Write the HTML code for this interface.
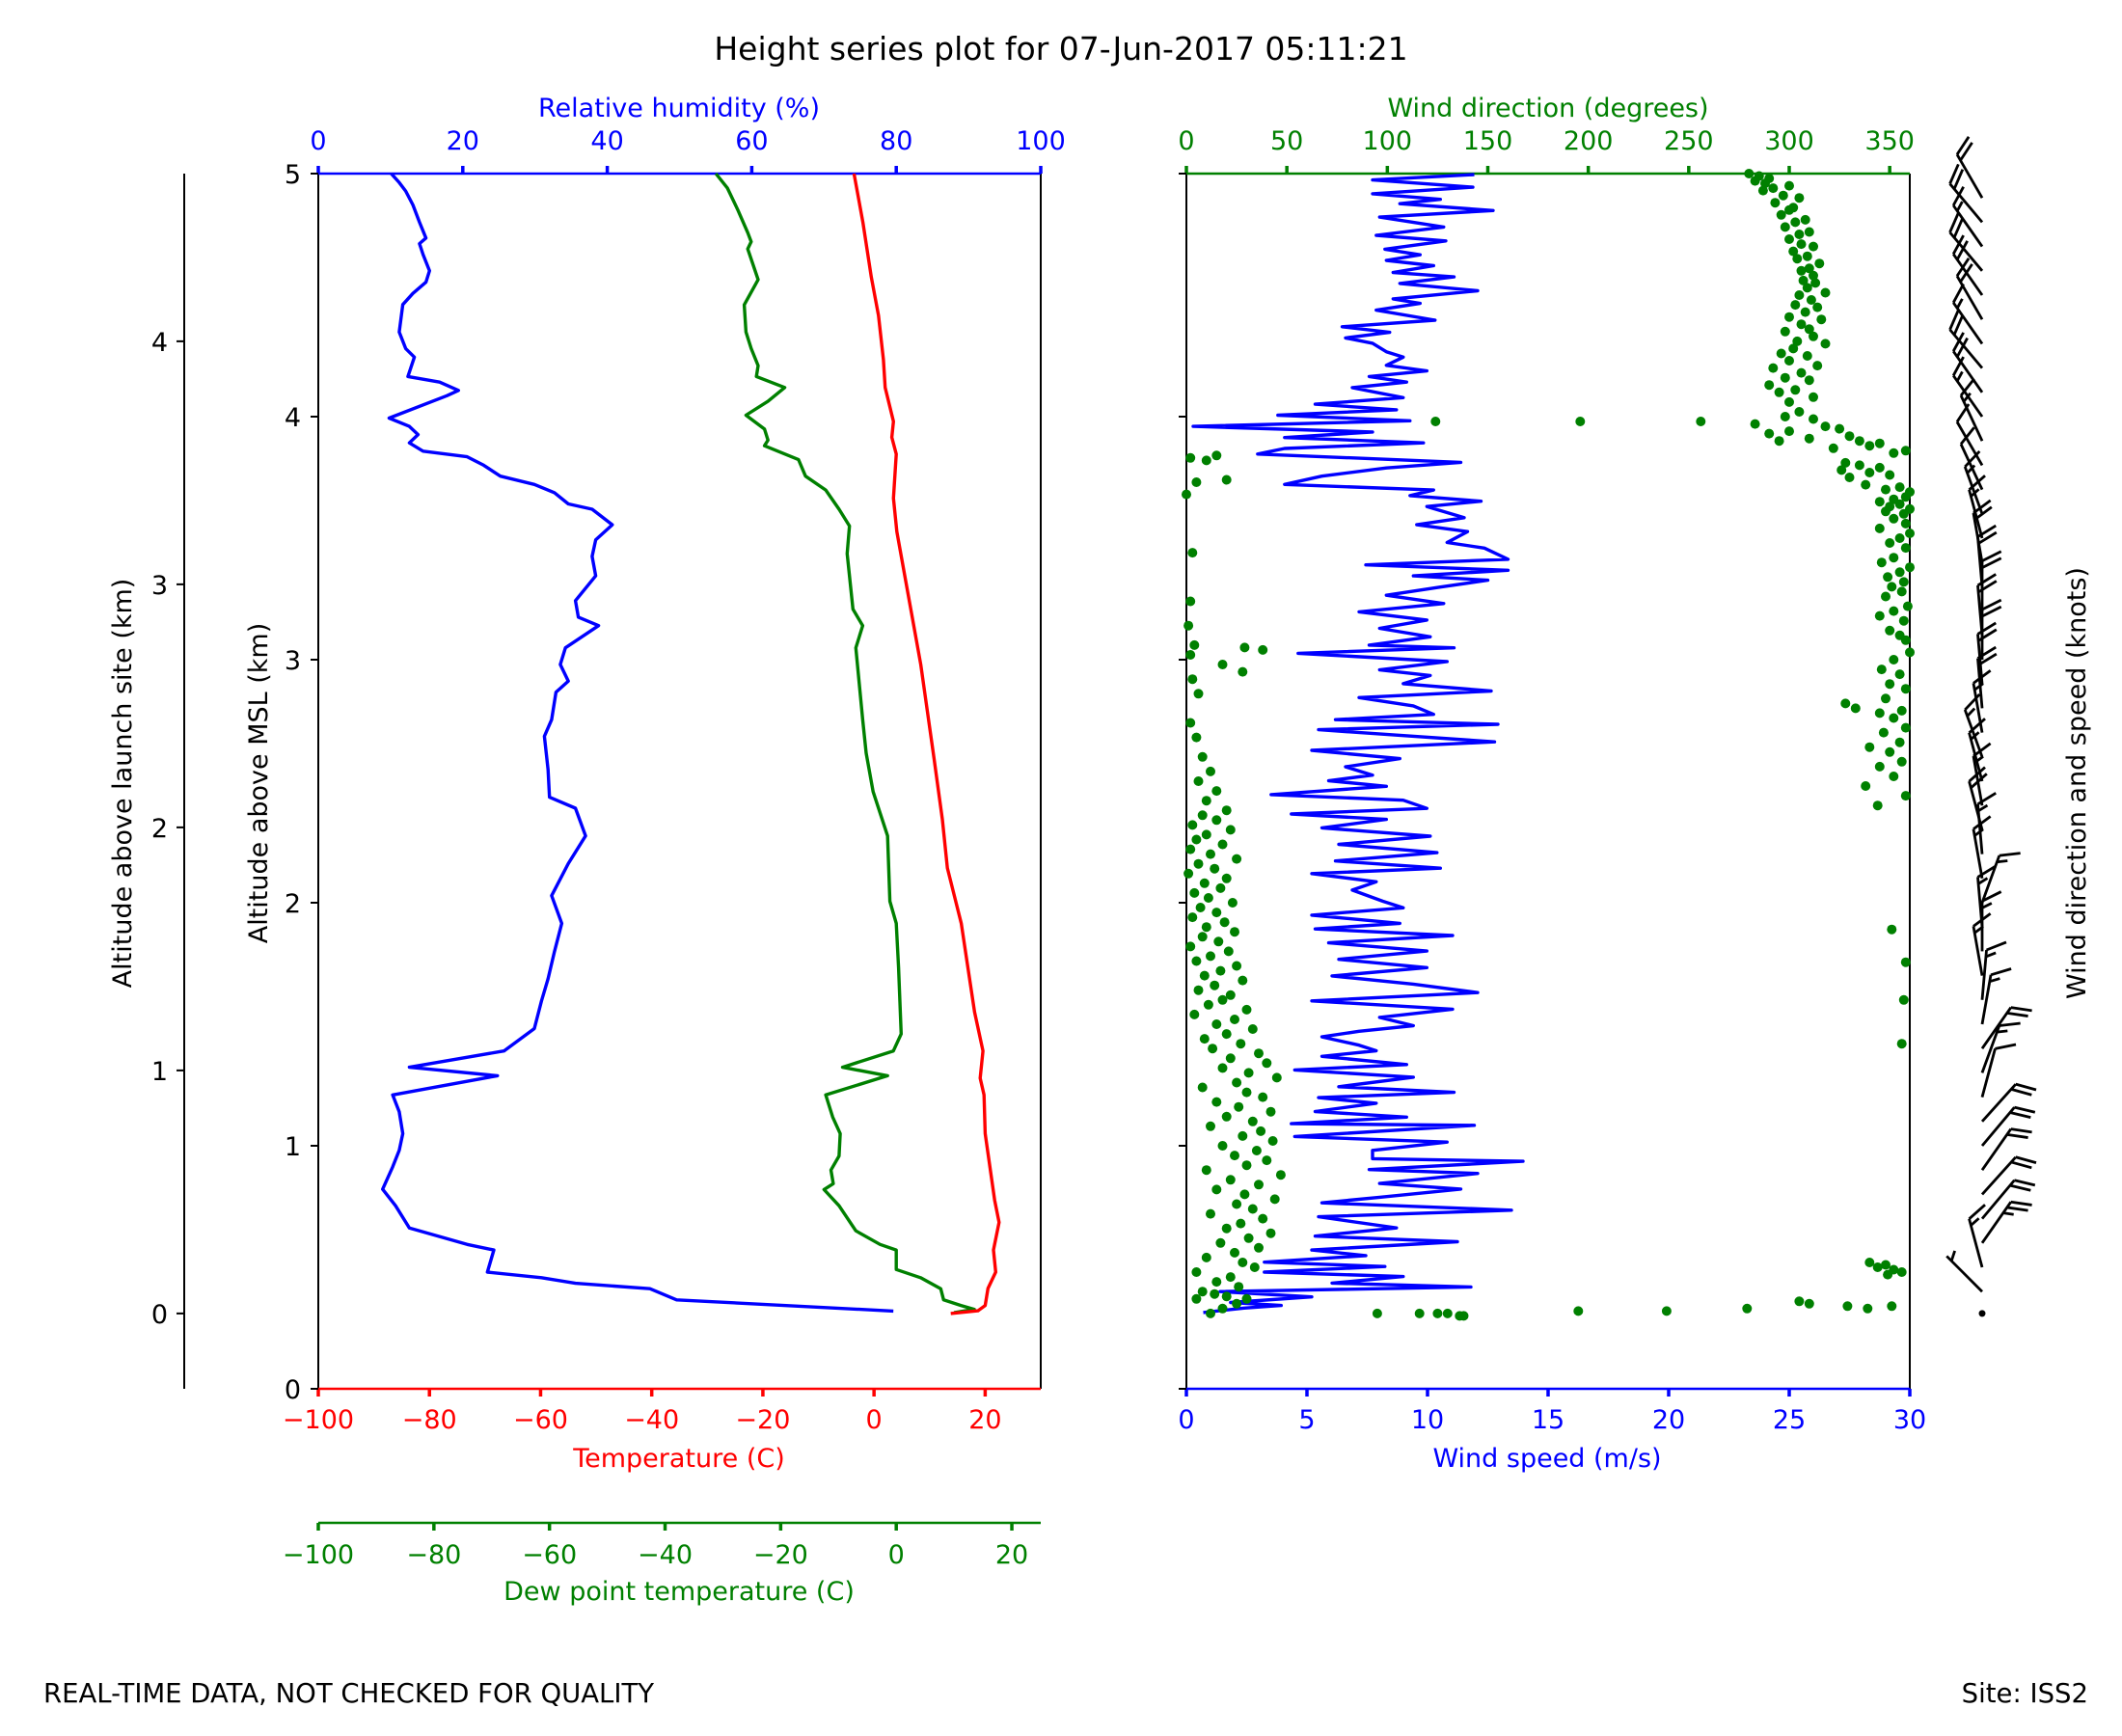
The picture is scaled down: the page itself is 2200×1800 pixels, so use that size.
<!DOCTYPE html>
<html><head><meta charset="utf-8"><title>Height series plot</title>
<style>
html,body{margin:0;padding:0;background:#fff;}
svg{display:block;font-family:"DejaVu Sans","Liberation Sans",sans-serif;}
</style></head>
<body>
<svg id="fig" width="2200" height="1800" viewBox="0 0 2200 1800" xmlns="http://www.w3.org/2000/svg">
<rect width="2200" height="1800" fill="#fff"/>
<text x="1100" y="62" font-size="33" text-anchor="middle">Height series plot for 07-Jun-2017 05:11:21</text>
<text x="45" y="1765" font-size="27.5">REAL-TIME DATA, NOT CHECKED FOR QUALITY</text>
<text x="2165" y="1765" font-size="27.5" text-anchor="end">Site: ISS2</text>
<g id="g"></g>
</svg>
<script>
// ---------- data ----------
const tempAlt=[5.0,4.80,4.575,4.416,4.234,4.12,3.98,3.915,3.846,3.664,3.527,3.30,2.98,2.593,2.343,2.143,1.915,1.55,1.39,1.278,1.209,1.05,0.776,0.685,0.571,0.48,0.413,0.343,0.321,0.31];
const tempVal=[-3.6,-2.0,-0.5,0.8,1.7,2.0,3.5,3.2,4.0,3.5,4.1,5.9,8.4,10.8,12.3,13.2,15.7,18.1,19.6,19.1,19.8,20.0,21.7,22.5,21.5,21.9,20.5,20.0,18.7,13.8];
const dewAlt=[5.0,4.94,4.85,4.757,4.72,4.69,4.564,4.46,4.348,4.28,4.21,4.165,4.12,4.063,4.006,3.949,3.903,3.88,3.823,3.755,3.698,3.619,3.55,3.436,3.208,3.14,3.049,2.753,2.616,2.457,2.275,2.006,1.915,1.733,1.46,1.39,1.323,1.288,1.209,1.118,1.05,0.958,0.9,0.844,0.82,0.753,0.65,0.594,0.571,0.491,0.457,0.412,0.366,0.343,0.327,0.313];
const dewVal=[-31.2,-29.2,-27.4,-25.7,-25.1,-25.7,-23.9,-26.3,-26.0,-25.1,-23.9,-24.2,-19.3,-22.2,-26.0,-22.8,-22.2,-22.8,-16.9,-15.7,-12.2,-9.9,-8.1,-8.5,-7.5,-5.8,-7.0,-5.8,-5.2,-4.0,-1.5,-1.1,0.0,0.4,0.85,-0.5,-9.3,-1.5,-12.2,-11.0,-9.7,-9.9,-11.3,-10.9,-12.5,-9.9,-7.0,-2.8,0.0,0.0,4.2,7.7,8.2,11.2,13.5,10.0];
const rhAlt=[5.0,4.963,4.928,4.871,4.80,4.735,4.712,4.667,4.60,4.553,4.507,4.461,4.348,4.28,4.245,4.165,4.142,4.108,4.086,3.994,3.96,3.926,3.892,3.858,3.835,3.80,3.755,3.721,3.687,3.641,3.619,3.555,3.493,3.425,3.345,3.243,3.175,3.14,3.049,2.98,2.912,2.866,2.753,2.685,2.548,2.434,2.389,2.275,2.161,2.029,1.915,1.80,1.687,1.596,1.482,1.39,1.323,1.288,1.209,1.14,1.05,0.981,0.913,0.821,0.753,0.662,0.594,0.571,0.48,0.457,0.434,0.412,0.366,0.32];
const rhVal=[10.1,11.2,12.1,13.1,14.0,14.9,14.0,14.5,15.4,14.9,13.1,11.7,11.2,12.1,13.3,12.4,16.8,19.4,17.8,9.8,12.6,13.8,12.6,14.5,20.6,22.9,25.2,29.9,32.7,34.6,37.9,40.7,38.4,37.9,38.4,35.6,36.0,38.8,34.2,33.5,34.6,32.9,32.3,31.3,31.8,32.0,35.6,37.0,34.6,32.3,33.7,32.7,31.8,30.9,29.9,25.7,12.6,24.8,10.3,11.2,11.7,11.2,10.3,8.9,10.7,12.6,20.6,24.3,23.4,30.9,35.6,45.9,49.6,79.6];
const wsAlt=[4.996,4.974,4.944,4.917,4.894,4.876,4.848,4.821,4.780,4.746,4.723,4.689,4.666,4.643,4.621,4.593,4.575,4.548,4.518,4.484,4.466,4.438,4.397,4.370,4.347,4.324,4.302,4.267,4.245,4.211,4.188,4.165,4.142,4.119,4.078,4.051,4.028,4.006,3.983,3.960,3.937,3.914,3.892,3.869,3.846,3.812,3.789,3.755,3.721,3.698,3.675,3.652,3.630,3.584,3.555,3.527,3.482,3.459,3.413,3.390,3.368,3.345,3.327,3.299,3.265,3.231,3.197,3.163,3.129,3.094,3.060,3.049,3.026,2.992,2.958,2.935,2.901,2.871,2.844,2.810,2.775,2.753,2.734,2.712,2.662,2.627,2.593,2.559,2.525,2.502,2.479,2.445,2.422,2.388,2.365,2.343,2.308,2.274,2.240,2.206,2.172,2.142,2.120,2.086,2.052,2.006,1.979,1.949,1.915,1.892,1.865,1.835,1.801,1.767,1.733,1.699,1.665,1.630,1.596,1.562,1.528,1.494,1.471,1.448,1.414,1.391,1.368,1.334,1.312,1.282,1.243,1.220,1.198,1.175,1.141,1.118,1.091,1.084,1.038,1.015,0.981,0.947,0.936,0.902,0.886,0.845,0.822,0.788,0.765,0.735,0.708,0.662,0.628,0.605,0.571,0.548,0.521,0.503,0.480,0.462,0.435,0.419,0.400,0.378,0.355,0.343,0.332,0.314];
const wsVal=[11.94,7.72,11.88,7.72,10.53,8.85,12.72,8.01,10.67,7.87,10.76,8.23,9.69,8.29,10.25,8.57,11.10,8.85,12.08,8.57,9.69,7.87,10.31,6.46,8.43,6.60,7.72,8.29,8.99,8.29,9.97,7.58,9.13,6.88,8.99,5.34,8.71,3.79,9.27,0.28,7.72,4.07,9.83,4.07,2.95,11.38,8.29,5.62,4.07,10.25,9.27,12.22,9.97,11.52,9.55,11.66,10.81,12.36,13.34,7.44,13.34,9.41,12.50,10.53,8.29,10.67,7.16,9.97,8.01,10.11,7.58,11.10,4.63,10.81,8.01,10.11,8.99,12.64,7.16,9.41,10.25,6.18,12.92,5.48,12.78,5.20,8.85,6.60,7.72,5.90,8.29,3.51,8.99,9.97,4.35,8.29,5.62,10.11,6.32,10.39,6.18,10.53,5.20,7.87,6.88,8.15,8.99,5.20,8.85,5.34,11.04,5.90,9.97,6.32,9.97,6.04,9.41,12.08,5.20,11.04,8.01,9.41,7.16,5.62,7.16,7.87,5.62,9.13,4.49,9.41,6.32,11.10,5.48,7.87,5.34,9.13,4.35,11.94,4.49,10.81,7.72,7.72,13.96,7.58,12.08,8.01,11.38,8.01,5.62,13.48,5.48,8.71,5.34,11.24,5.20,7.44,3.23,8.23,3.23,8.99,6.04,11.80,1.40,5.20,1.83,3.93,2.39,0.70];
const wdAlt=[
5.00,4.99,4.98,4.97,4.96,4.95,4.94,4.93,4.91,4.90,
4.88,4.86,4.85,4.83,4.81,4.80,4.78,4.76,4.75,4.73,
4.71,4.70,4.68,4.66,4.65,4.63,4.61,4.60,4.58,4.56,
4.55,4.53,4.51,4.50,4.48,4.46,4.45,4.43,4.41,4.40,
4.38,4.36,4.35,4.33,4.31,4.30,4.28,4.26,4.25,4.23,
4.21,4.20,4.18,4.16,4.15,4.13,4.11,4.10,4.08,4.06,
4.02,4.00,3.99,3.98,3.98,3.98,3.97,3.96,3.95,3.94,
3.93,3.92,3.91,3.90,3.90,3.89,3.88,3.87,3.86,3.85,
3.84,3.83,3.82,3.81,3.80,3.79,3.78,3.77,3.76,3.75,
3.74,3.73,3.72,3.71,3.70,3.69,3.68,3.67,3.66,3.65,
3.64,3.63,3.62,3.61,3.60,3.58,3.56,3.54,3.52,3.50,
3.48,3.46,3.44,3.42,3.40,3.38,3.36,3.34,3.32,3.30,
3.28,3.26,3.24,3.22,3.20,3.18,3.16,3.14,3.12,3.10,
3.08,3.06,3.05,3.04,3.03,3.02,3.00,2.98,2.96,2.95,
2.94,2.92,2.90,2.88,2.86,2.84,2.82,2.80,2.79,2.78,
2.76,2.74,2.72,2.70,2.68,2.66,2.64,2.62,2.60,2.58,
2.56,2.54,2.52,2.50,2.48,2.46,2.44,2.42,2.40,2.38,
2.36,2.34,2.32,2.30,2.28,2.26,2.24,2.22,2.20,2.18,
2.16,2.14,2.12,2.10,2.08,2.06,2.04,2.02,2.00,1.98,
1.96,1.94,1.92,1.90,1.89,1.88,1.86,1.84,1.82,1.80,
1.78,1.76,1.755,1.74,1.72,1.70,1.68,1.66,1.64,1.62,
1.60,1.60,1.58,1.56,1.54,1.52,1.50,1.48,1.46,1.44,
1.42,1.42,1.40,1.38,1.36,1.34,1.32,1.30,1.28,1.26,
1.24,1.22,1.20,1.18,1.16,1.14,1.12,1.10,1.08,1.06,
1.04,1.02,1.00,0.98,0.96,0.94,0.92,0.90,0.88,0.86,
0.84,0.82,0.80,0.78,0.76,0.74,0.72,0.70,0.68,0.66,
0.64,0.62,0.60,0.58,0.56,0.54,0.52,0.50,0.48,0.46,
0.52,0.51,0.50,0.49,0.48,0.47,0.44,0.42,0.40,0.38,
0.36,0.35,0.34,0.34,0.33,0.33,0.32,0.32,0.31,0.31,
0.31,0.31,0.30,0.30,0.31,0.33,0.35,0.37,0.37,0.39];
const wdVal=[
280,285,290,283,288,300,292,287,297,305,
293,302,300,296,308,303,298,310,305,300,
306,312,302,309,304,315,310,306,312,307,
313,309,318,305,311,303,314,308,300,316,
306,310,298,312,304,318,302,296,309,300,
314,292,306,298,310,290,303,295,312,300,
305,298,312,124,196,256,283,318,325,300,
290,330,310,295,335,345,340,322,358,352,
15,2,10,328,335,345,326,340,350,330,
20,5,338,355,348,360,0,358,352,345,
355,350,360,348,357,352,358,345,360,355,
350,358,3,352,346,360,355,349,357,351,
356,348,2,359,352,345,357,1,350,355,
358,4,29,38,360,2,352,18,346,28,
355,3,350,358,6,348,328,333,356,345,
352,2,358,347,5,355,340,350,8,356,
345,12,352,6,338,15,358,10,344,20,
8,15,3,22,10,5,18,2,12,25,
6,14,1,20,9,17,4,11,23,7,
15,3,19,10,351,24,8,16,2,21,
12,5,358,25,17,9,28,14,6,22,
18,357,11,30,4,24,15,33,20,9,
27,356,13,36,22,40,18,31,45,25,
8,30,38,15,26,42,20,33,12,37,
28,43,18,35,24,40,30,10,47,22,
36,15,29,44,25,33,12,38,27,20,
42,31,17,36,24,10,28,34,5,22,
340,348,344,352,356,349,15,26,8,20,
305,310,329,351,279,339,239,195,95,116,
125,130,136,138,12,18,25,30,5,14];
const barbAlt=[0.31,0.40,0.50,0.60,0.70,0.80,0.90,1.00,1.10,1.20,1.30,1.40,1.50,1.60,1.70,1.80,1.90,2.00,2.10,2.20,2.30,2.40,2.50,2.60,2.70,2.80,2.90,3.00,3.10,3.20,3.30,3.40,3.50,3.60,3.70,3.80,3.90,4.00,4.10,4.20,4.30,4.40,4.50,4.60,4.70,4.80,4.90];
const barbDir=[0,315,345,35,40,42,35,40,42,15,20,35,10,5,350,0,355,20,350,355,345,350,345,340,350,355,355,0,355,0,355,350,345,340,335,330,335,325,325,320,325,330,325,320,325,320,330];
const barbSpd=[0,5,15,25,20,20,20,20,20,10,15,20,15,15,15,15,15,15,15,15,20,15,15,15,15,20,20,20,20,20,20,20,15,15,10,10,15,15,20,20,15,20,20,20,15,20,20];
const rhTicks=[0,20,40,60,80,100];
const tTicks=[-100,-80,-60,-40,-20,0,20];
const tdTicks=[-100,-80,-60,-40,-20,0,20];
const wsTicks=[0,5,10,15,20,25,30];
const wdTicks=[0,50,100,150,200,250,300,350];
const mslTicks=[0,1,2,3,4,5];
const launchTicks=[0,1,2,3,4];
const launchOffset=0.31;

// ---------- scales ----------
const L0=330,L1=1079,R0=1230,R1=1980,T=180,B=1440;
const FS=27;
const yA=k=>B-k*(B-T)/5;
const xT=v=>L0+(v+100)*(L1-L0)/130;
const xTd=v=>L0+(v+100)*(L1-L0)/125;
const xRH=v=>L0+v*(L1-L0)/100;
const xWS=v=>R0+v*(R1-R0)/30;
const xWD=v=>R0+v*(R1-R0)/360;
const NS='http://www.w3.org/2000/svg';
const G=document.getElementById('g');
function mk(tag,attrs,parent){const e=document.createElementNS(NS,tag);for(const k in attrs)e.setAttribute(k,attrs[k]);(parent||G).appendChild(e);return e;}
function txt(x,y,s,size,fill,anchor,parent){const e=mk('text',{x:x,y:y,'font-size':size,fill:fill,'text-anchor':anchor},parent);e.textContent=s;return e;}

let e;
e=mk('line',{x1:L0,y1:T,x2:L0,y2:B,stroke:'#000','stroke-width':2});


e=mk('line',{x1:L1,y1:T,x2:L1,y2:B,stroke:'#000','stroke-width':2});


e=mk('line',{x1:R0,y1:T,x2:R0,y2:B,stroke:'#000','stroke-width':2});


e=mk('line',{x1:R1,y1:T,x2:R1,y2:B,stroke:'#000','stroke-width':2});


e=mk('line',{x1:191,y1:T,x2:191,y2:B,stroke:'#000','stroke-width':2});



function hAxis(name,y,x0,x1,color,ticks,scale,dir,labelY,title,titleX,titleY){
  const g=mk('g',{});
  
  
  mk('line',{x1:x0,y1:y,x2:x1,y2:y,stroke:color,'stroke-width':2.5},g);
  ticks.forEach(t=>{const x=scale(t);
    mk('line',{x1:x,y1:y,x2:x,y2:y+dir*8,stroke:color,'stroke-width':3.5},g);
    const lab=txt(x,labelY,String(t).replace('-','\u2212'),FS,color,'middle',g);
    
    
  });
  const tt=txt(titleX,titleY,title,FS,color,'middle',g);
  
  
}
hAxis('rh-axis',T,L0,L1,'#0000ff',rhTicks,xRH,-1,155,'Relative humidity (%)',704,121);
hAxis('temperature-axis',B,L0,L1,'#ff0000',tTicks,xT,1,1481,'Temperature (C)',704,1521);
hAxis('dewpoint-axis',1579,L0,L1,'#008000',tdTicks,xTd,1,1621,'Dew point temperature (C)',704,1659);
hAxis('wind-speed-axis',B,R0,R1,'#0000ff',wsTicks,xWS,1,1481,'Wind speed (m/s)',1604,1521);
hAxis('wind-direction-axis',T,R0,R1,'#008000',wdTicks,xWD,-1,155,'Wind direction (degrees)',1605,121);

const gy=mk('g',{});


mslTicks.forEach(k=>{const y=yA(k);
  mk('line',{x1:L0,y1:y,x2:L0-8,y2:y,stroke:'#000','stroke-width':2},gy);
  const l=txt(312,y+10,String(k),FS,'#000','end',gy);
  
  
  mk('line',{x1:R0,y1:y,x2:R0-8,y2:y,stroke:'#000','stroke-width':2},gy);
});
const gl=mk('g',{});


launchTicks.forEach(k=>{const y=yA(k+launchOffset);
  mk('line',{x1:191,y1:y,x2:183,y2:y,stroke:'#000','stroke-width':2},gl);
  const l=txt(174,y+10,String(k),FS,'#000','end',gl);
  
  
});
e=txt(0,0,'Altitude above launch site (km)',FS,'#000','middle');
e.setAttribute('transform','translate(136,812) rotate(-90)');


e=txt(0,0,'Altitude above MSL (km)',FS,'#000','middle');
e.setAttribute('transform','translate(277,812) rotate(-90)');


e=txt(0,0,'Wind direction and speed (knots)',FS,'#000','middle');
e.setAttribute('transform','translate(2162,812) rotate(-90)');



function series(name,alts,vals,sx,color){
  const pts=alts.map((a,i)=>sx(vals[i]).toFixed(1)+','+yA(a).toFixed(1)).join(' ');
  const p=mk('polyline',{points:pts,fill:'none',stroke:color,'stroke-width':3.4,'stroke-linejoin':'round'});
  
  
}
series('rh-line',rhAlt,rhVal,xRH,'#0000ff');
series('dewpoint-line',dewAlt,dewVal,xTd,'#008000');
series('temperature-line',tempAlt,tempVal,xT,'#ff0000');
series('wind-speed-line',wsAlt,wsVal,xWS,'#0000ff');

const gd=mk('g',{fill:'#008000'});


wdAlt.forEach((a,i)=>{
  const c=mk('circle',{cx:xWD(wdVal[i]).toFixed(1),cy:yA(a).toFixed(1),r:5},gd);
  
  
});

const gb=mk('g',{stroke:'#000','stroke-width':2.8,fill:'none','stroke-linecap':'butt'});


const BX=2055,SL=52,FL=22,SP=7;
barbAlt.forEach((a,i)=>{
  const y=yA(a),s=barbSpd[i],d=barbDir[i]*Math.PI/180;
  const bg=mk('g',{},gb);
  
  
  if(s<2.5){mk('circle',{cx:BX,cy:y,r:3.5,fill:'#000',stroke:'none'},bg);return;}
  const ux=Math.sin(d),uy=-Math.cos(d);
  const px=-uy,py=ux;
  let fx=px+0.5*ux,fy=py+0.5*uy;const fn=Math.hypot(fx,fy);fx/=fn;fy/=fn;
  const tx=BX+ux*SL,ty=y+uy*SL;
  mk('line',{x1:BX,y1:y,x2:tx,y2:ty},bg);
  let n10=Math.floor(s/10),n5=Math.round((s%10)/5);
  let pos=0;
  if(n10===0&&n5)pos=SP;
  for(let k=0;k<n10;k++){const bx=tx-ux*pos,by=ty-uy*pos;
    mk('line',{x1:bx,y1:by,x2:bx+fx*FL,y2:by+fy*FL},bg);pos+=SP;}
  if(n5){const bx=tx-ux*pos,by=ty-uy*pos;
    mk('line',{x1:bx,y1:by,x2:bx+fx*FL/2,y2:by+fy*FL/2},bg);}
});
</script>
</body></html>
